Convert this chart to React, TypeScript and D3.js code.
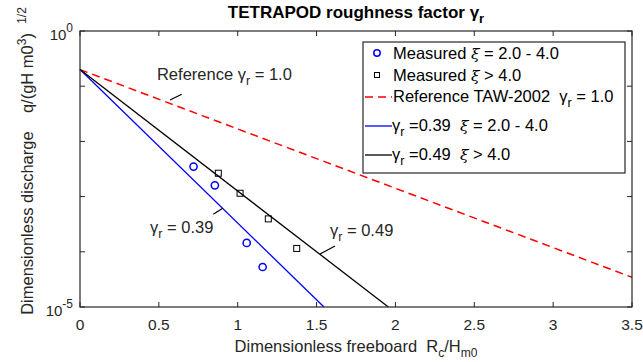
import * as d3 from 'd3';

const xTicks = [0, 0.5, 1, 1.5, 2, 2.5, 3, 3.5];
const yTicks = [1e0, 1e-1, 1e-2, 1e-3, 1e-4, 1e-5];

const measuredLowX = [0.72, 0.855, 1.057, 1.158];
const measuredLowY = [3.5e-3, 1.6e-3, 1.45e-4, 5.3e-5];
const measuredHighX = [0.877, 1.015, 1.194, 1.374];
const measuredHighY = [2.65e-3, 1.15e-3, 3.95e-4, 1.15e-4];

const refX = [0, 3.5];
const refY = [0.2, 3.45e-5];
const blueX = [0, 1.547];
const blueY = [0.2, 1e-5];
const blackX = [0, 1.955];
const blackY = [0.2, 1e-5];

const W = 643;
const H = 362;
const m = { left: 80, right: 11, top: 31, bottom: 55 };
const FONT = '"Liberation Sans", Arial, Helvetica, sans-serif';
const FS = 16.5;
const NB = '\u00A0';

export default function App() {
  const x = d3.scaleLinear().domain([0, 3.5]).range([m.left, W - m.right]);
  const y = d3.scaleLog().domain([1e-5, 1]).range([H - m.bottom, m.top]);
  const [x0, x1] = x.range();
  const [y0, y1] = y.range();

  const line = d3.line<[number, number]>().x(d => x(d[0])).y(d => y(d[1]));
  const pts = (xs: number[], ys: number[]) => xs.map((v, i) => [v, ys[i]] as [number, number]);

  const tickLen = 5;
  const gamma = (sub: string, rest: string, sz = FS) => (
    <>
      <tspan>γ</tspan>
      <tspan dy={5} fontSize={sz - 4}>{sub}</tspan>
      <tspan dy={-5}>{rest}</tspan>
    </>
  );
  const xi = <tspan fontStyle="italic" fontFamily="DejaVu Serif" fontSize={FS - 1}>ξ</tspan>;

  // legend geometry
  const lg = { x: 363, y: 42, w: 262, h: 131 };
  const rows = [53, 75, 97, 126, 155];

  return (
    <svg width={W} height={H} style={{ position: 'absolute', left: 0, top: 0, background: '#fff' }} fontFamily={FONT}>
      <rect width={W} height={H} fill="#fff" />

      {/* title */}
      <text x={(x0 + x1) / 2} y={18} textAnchor="middle" fontWeight="bold" fontSize={17}>
        TETRAPOD roughness factor {gamma('r', '', 17)}
      </text>

      {/* lines */}
      <path d={line(pts(refX, refY)) || ''} fill="none" stroke="#ff0000" strokeWidth={1.5} strokeDasharray="8,5" />
      <path d={line(pts(blueX, blueY)) || ''} fill="none" stroke="#0000ff" strokeWidth={1.3} />
      <path d={line(pts(blackX, blackY)) || ''} fill="none" stroke="#000" strokeWidth={1.3} />

      {/* measured points */}
      {measuredLowX.map((v, i) => (
        <circle key={'c' + i} cx={x(v)} cy={y(measuredLowY[i])} r={3.6} fill="none" stroke="#0000ff" strokeWidth={1.5} />
      ))}
      {measuredHighX.map((v, i) => (
        <rect key={'s' + i} x={x(v) - 3} y={y(measuredHighY[i]) - 3} width={6} height={6} fill="none" stroke="#000" strokeWidth={1} />
      ))}

      {/* axes box */}
      <rect x={x0} y={y1} width={x1 - x0} height={y0 - y1} fill="none" stroke="#262626" strokeWidth={1.2} />
      {xTicks.map(t => (
        <g key={'xt' + t}>
          <line x1={x(t)} x2={x(t)} y1={y0} y2={y0 - tickLen} stroke="#262626" />
          <line x1={x(t)} x2={x(t)} y1={y1} y2={y1 + tickLen} stroke="#262626" />
          <text x={x(t)} y={y0 + 23} textAnchor="middle" fontSize={15.5} fill="#262626">{t}</text>
        </g>
      ))}
      {yTicks.map(t => (
        <g key={'yt' + t}>
          <line x1={x0} x2={x0 + tickLen} y1={y(t)} y2={y(t)} stroke="#262626" />
          <line x1={x1} x2={x1 - tickLen} y1={y(t)} y2={y(t)} stroke="#262626" />
        </g>
      ))}
      {[1, 1e-5].map(t => (
        <text key={'yl' + t} x={x0 - 7} y={y(t) + 9} textAnchor="end" fontSize={15} fill="#262626">
          10<tspan dy={-8} fontSize={12}>{Math.round(Math.log10(t))}</tspan>
        </text>
      ))}

      {/* axis labels */}
      <text x={(x0 + x1) / 2} y={352} textAnchor="middle" fontSize={FS} fill="#262626">
        {`Dimensionless freeboard ${NB}R`}
        <tspan dy={5} fontSize={12}>c</tspan>
        <tspan dy={-5}>/H</tspan>
        <tspan dy={5} fontSize={12}>m0</tspan>
      </text>
      <text transform={`translate(33,${(y0 + y1) / 2 - 8}) rotate(-90)`} textAnchor="middle" fontSize={FS} fill="#262626">
        {`Dimensionless discharge ${NB}${NB}${NB}q/(gH m0`}
        <tspan dy={-7} fontSize={12}>3</tspan>
        <tspan dy={7}>{`)${NB}${NB}`}</tspan>
        <tspan dy={-7} fontSize={12}>1/2</tspan>
      </text>

      {/* annotations */}
      <text x={x(0.488)} y={y(Math.pow(10, -0.888))} fontSize={FS} fill="#262626">
        {`Reference${NB}`}{gamma('r', ' = 1.0')}
      </text>
      <line x1={x(0.571)} y1={y(Math.pow(10, -1.25))} x2={x(0.645)} y2={y(Math.pow(10, -1.147))} stroke="#000" strokeWidth={1.2} />
      <text x={x(0.444)} y={y(Math.pow(10, -3.66))} fontSize={FS} fill="#262626">
        {gamma('r', ' = 0.39')}
      </text>
      <line x1={x(0.845)} y1={y(Math.pow(10, -3.321))} x2={x(0.905)} y2={y(Math.pow(10, -3.212))} stroke="#000" strokeWidth={1.2} />
      <text x={x(1.585)} y={y(Math.pow(10, -3.714))} fontSize={FS} fill="#262626">
        {gamma('r', ' = 0.49')}
      </text>
      <line x1={x(1.522)} y1={y(Math.pow(10, -4.04))} x2={x(1.617)} y2={y(Math.pow(10, -3.895))} stroke="#000" strokeWidth={1.2} />

      {/* legend */}
      <rect x={lg.x} y={lg.y} width={lg.w} height={lg.h} fill="#fff" stroke="#262626" strokeWidth={1.2} />
      <circle cx={377} cy={rows[0]} r={3.2} fill="none" stroke="#0000ff" strokeWidth={1.5} />
      <rect x={374.5} y={rows[1] - 2.5} width={5} height={5} fill="none" stroke="#000" strokeWidth={1} />
      <line x1={365} x2={392} y1={rows[2]} y2={rows[2]} stroke="#ff0000" strokeWidth={1.5} strokeDasharray="8,5" />
      <line x1={365} x2={392} y1={rows[3]} y2={rows[3]} stroke="#0000ff" strokeWidth={1.3} />
      <line x1={365} x2={392} y1={rows[4]} y2={rows[4]} stroke="#000" strokeWidth={1.3} />
      <g fontSize={FS} fill="#000">
        <text x={393} y={rows[0] + 6}>{`Measured${NB}`}{xi}{' = 2.0 - 4.0'}</text>
        <text x={393} y={rows[1] + 6}>{`Measured${NB}`}{xi}{' > 4.0'}</text>
        <text x={393} y={rows[2] + 5}>{`Reference TAW-2002 ${NB}`}{gamma('r', ' = 1.0')}</text>
        <text x={392} y={rows[3] + 5}>{gamma('r', ` =0.39 ${NB}`)}{xi}{' = 2.0 - 4.0'}</text>
        <text x={392} y={rows[4] + 5}>{gamma('r', ` =0.49 ${NB}`)}{xi}{' > 4.0'}</text>
      </g>
    </svg>
  );
}
